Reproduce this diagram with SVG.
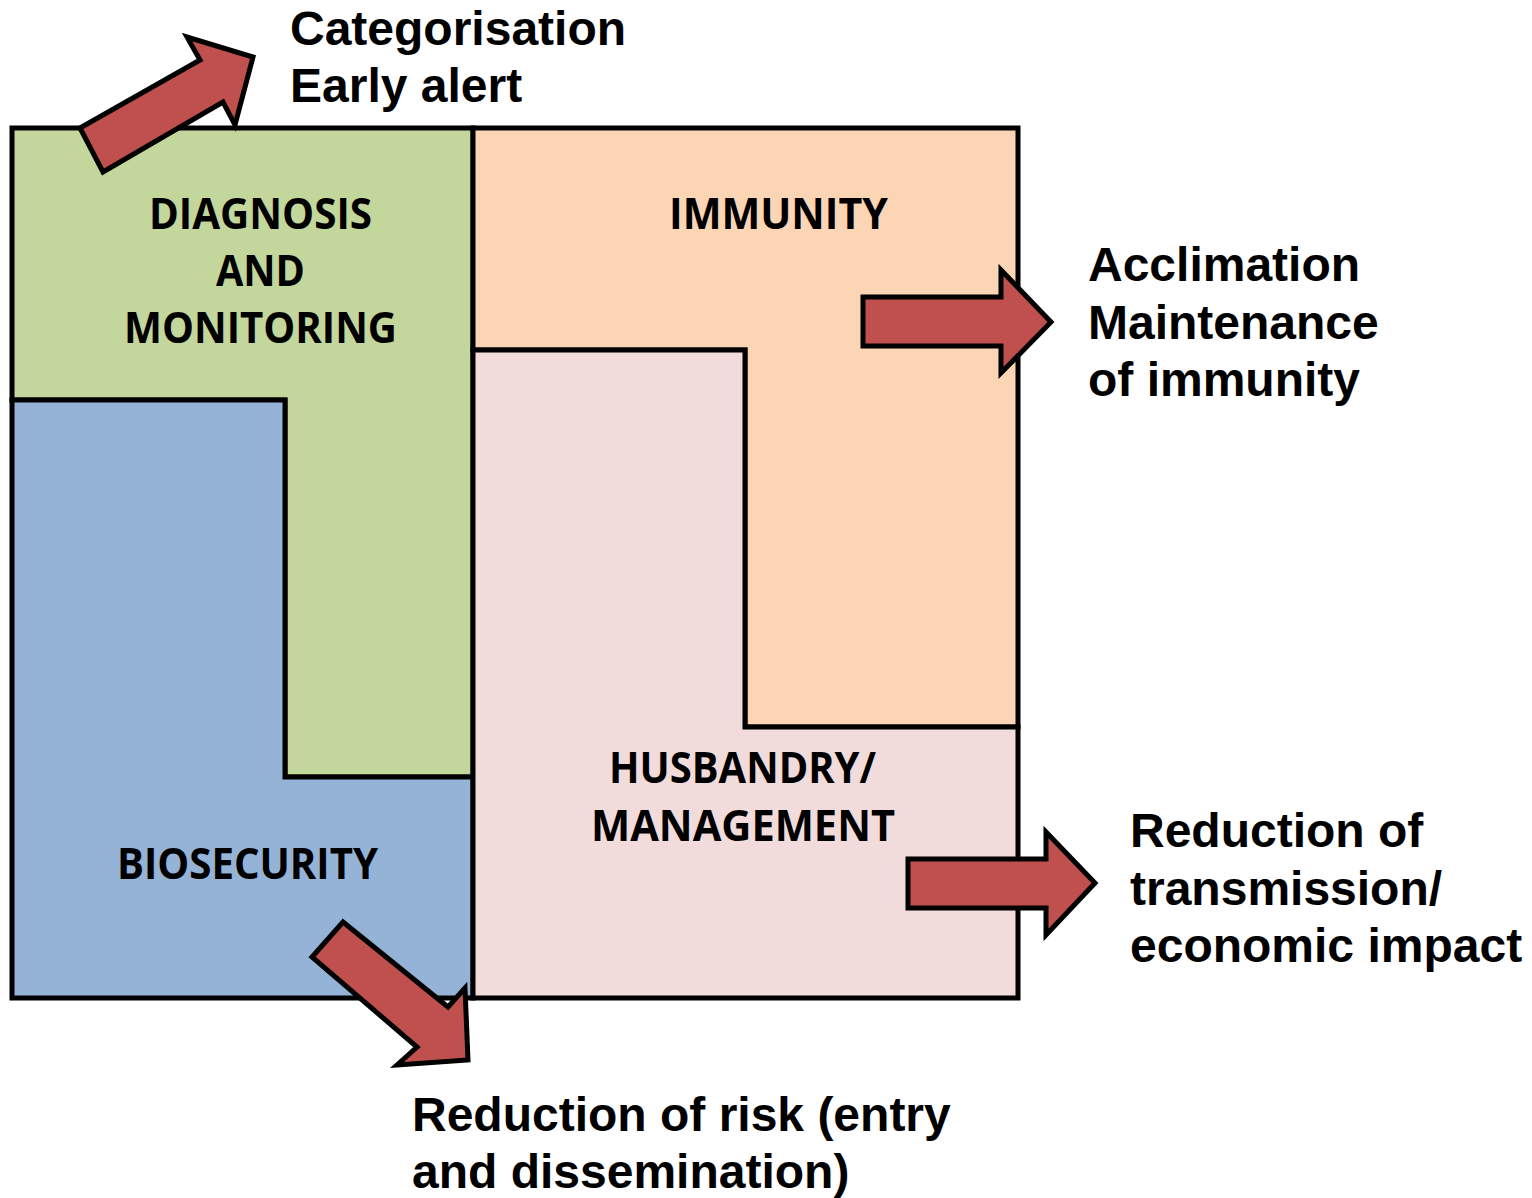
<svg xmlns="http://www.w3.org/2000/svg" width="1532" height="1198" viewBox="0 0 1532 1198">
<style>
.region{stroke:#000;stroke-width:5;stroke-linejoin:miter}
.arrow{fill:#C0504D;stroke:#000;stroke-width:5;stroke-linejoin:miter}
.box{font-family:"Open Sans","DejaVu Sans",sans-serif;font-weight:bold;font-size:43px;fill:#000;text-anchor:middle}
.out{font-family:"Liberation Sans",Arial,sans-serif;font-weight:bold;font-size:48px;fill:#000}
</style>
<rect width="1532" height="1198" fill="#fff"/>
<g id="diagnosis">
<polygon class="region" fill="#C3D69B" points="12,128 473,128 473,777 285,777 285,400 12,400"/>
<text class="box" x="260.5" y="229" textLength="223" lengthAdjust="spacingAndGlyphs">DIAGNOSIS</text>
<text class="box" x="260.5" y="286" textLength="89" lengthAdjust="spacingAndGlyphs">AND</text>
<text class="box" x="260.5" y="343" textLength="273" lengthAdjust="spacingAndGlyphs">MONITORING</text>
</g>
<g id="biosecurity">
<polygon class="region" fill="#95B3D7" points="12,400 285,400 285,777 473,777 473,998 12,998"/>
<text class="box" x="247.5" y="879" textLength="261" lengthAdjust="spacingAndGlyphs">BIOSECURITY</text>
</g>
<g id="immunity">
<polygon class="region" fill="#FCD5B5" points="473,128 1018,128 1018,727 745,727 745,350 473,350"/>
<text class="box" x="778.5" y="229" textLength="219" lengthAdjust="spacingAndGlyphs">IMMUNITY</text>
</g>
<g id="husbandry">
<polygon class="region" fill="#F2DCDB" points="473,350 745,350 745,727 1018,727 1018,998 473,998"/>
<text class="box" x="742.5" y="783" textLength="267" lengthAdjust="spacingAndGlyphs">HUSBANDRY/</text>
<text class="box" x="743" y="841" textLength="304" lengthAdjust="spacingAndGlyphs">MANAGEMENT</text>
</g>
<g id="connectors">
<polygon class="arrow" points="80,128 200,60 187,37 253,57 235,125 223,102 103,172"/>
<polygon class="arrow" points="863,297 1001,297 1001,270 1051,322 1001,373 1001,346 863,346"/>
<polygon class="arrow" points="908,859 1046,859 1046,832 1095,883 1046,935 1046,908 908,908"/>
<polygon class="arrow" points="343,922 448,1007 465,988 468,1060 397,1065 417,1047 312,957"/>
</g>
<g id="label-diagnosis">
<text class="out" x="290" y="45">Categorisation</text>
<text class="out" x="290" y="102">Early alert</text>
</g>
<g id="label-immunity">
<text class="out" x="1088" y="281">Acclimation</text>
<text class="out" x="1088" y="339">Maintenance</text>
<text class="out" x="1088" y="396">of immunity</text>
</g>
<g id="label-husbandry">
<text class="out" x="1130" y="847">Reduction of</text>
<text class="out" x="1130" y="905">transmission/</text>
<text class="out" x="1130" y="962">economic impact</text>
</g>
<g id="label-biosecurity">
<text class="out" x="412" y="1131">Reduction of risk (entry</text>
<text class="out" x="412" y="1188">and dissemination)</text>
</g>
</svg>
